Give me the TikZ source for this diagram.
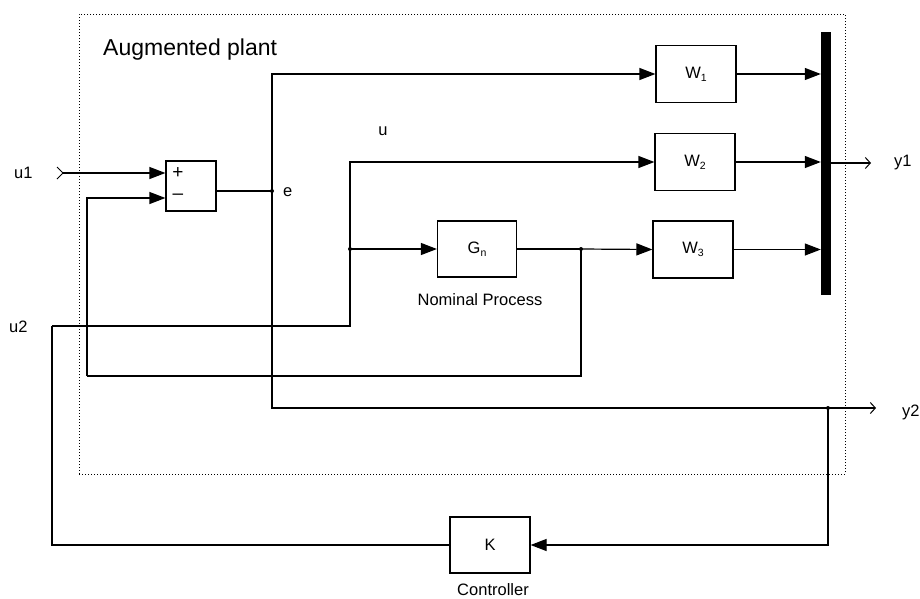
\documentclass[tikz,border=0pt]{standalone}
\usepackage{fontspec}
\setmainfont{Liberation Sans}
\usetikzlibrary{arrows.meta,calc}
\begin{document}
\begin{tikzpicture}[x=1pt,y=-1pt,
  blk/.style={draw,line width=1.2pt,minimum width=80pt,minimum height=57pt,inner sep=0pt,font=\fontsize{16.5}{19}\selectfont},
  wire/.style={line width=1.2pt},
  arr/.style={wire,-{Triangle[length=16pt,width=12pt]}},
  oarr/.style={wire,-{Straight Barb[length=5pt,width=11pt,line width=1pt]}},
  lbl/.style={font=\fontsize{16.5}{19}\selectfont,inner sep=0pt},
  jdot/.style={circle,fill,inner sep=0pt,minimum size=4pt}]
\newcommand{\sbs}[1]{\raisebox{-3pt}{\fontsize{10.5}{10.5}\selectfont #1}}
\useasboundingbox (0,0) rectangle (920,598);
\fill[white] (0,0) rectangle (920,598);

% augmented plant frame
\node[draw,dotted,line width=1pt,minimum width=766pt,minimum height=460pt,inner sep=0pt] (plant) at (462,244) {};
\node[anchor=base west,inner sep=0pt,font=\fontsize{23}{26}\selectfont] (plabel) at (103,55) {Augmented plant};

% blocks
\node[blk,minimum width=50pt,minimum height=50pt] (sum) at (191,186) {};
\node[lbl,font=\fontsize{19}{20}\selectfont] (plus) at (178,173) {+};
\node[lbl,font=\fontsize{19}{20}\selectfont] (minus) at (178,197) {\textendash};
\node[blk] (W1) at (696,74) {W\sbs{1}};
\node[blk] (W2) at (695,162) {W\sbs{2}};
\node[blk] (W3) at (693,249.5) {W\sbs{3}};
\node[blk,minimum width=79pt,minimum height=56pt] (Gn) at (477,249) {G\sbs{n}};
\node[blk,minimum height=56pt] (K) at (490,545) {K};
\node[fill,minimum width=10pt,minimum height=263pt,inner sep=0pt] (mux) at (826,163.5) {};

% labels
\node[lbl,anchor=west] (lu1) at (14,173) {u1};
\node[lbl,anchor=west] (lu2) at (9,327) {u2};
\node[lbl,anchor=west] (ly1) at (894,163) {y1};
\node[lbl,anchor=west] (ly2) at (902,412) {y2};
\node[lbl,anchor=west] (le) at (283,192) {e};
\node[lbl] (lu) at (383,131) {u};
\node[lbl] (lnp) at (480,300) {Nominal Process};
\node[lbl] (lk) at (493,590) {Controller};

% coordinates
\coordinate (u1in) at (63,173);
\coordinate (splus) at ($(sum.west)+(0,-13)$);
\coordinate (sminus) at ($(sum.west)+(0,12)$);
\coordinate (e) at (272,191);
\coordinate (yb) at (828,408);
\coordinate (y2end) at (876,408);
\coordinate (y1end) at (871,163);
\coordinate (u2c) at (52,326);
\coordinate (uj) at (350,249);
\coordinate (gj) at (581,249);
\coordinate (fb) at (87,376);

% input mark
\draw[line width=1pt] (u1in) ++(-6,-6) -- (u1in) -- ++(-6,6);

% connectors
\draw[arr] (u1in) -- (splus);
\draw[wire] (sum.east |- e) -- (e);
\draw[arr] (e) |- (W1.west);
\draw[wire] (e) |- (yb);
\draw[oarr] (yb) -- (y2end);
\draw[arr] (yb) |- (K.east);
\draw[wire] (K.west) -| (u2c);
\draw[wire] (u2c) -| (uj);
\draw[arr] (uj) |- (W2.west);
\draw[arr] (uj) -- (Gn.west);
\draw[wire] (Gn.east) -- (gj);
\draw[arr] (gj) -- (W3.west);
\draw[wire] (gj) |- (fb);
\draw[arr] (fb) |- (sminus);
\draw[arr] (W1.east) -- (W1.east -| mux.west);
\draw[arr] (W2.east) -- (W2.east -| mux.west);
\draw[arr] (W3.east) -- (W3.east -| mux.west);
\draw[oarr] (mux.east |- y1end) -- (y1end);

% junction dots
\node[jdot] (de) at (e) {};
\node[jdot] (duj) at (uj) {};
\node[jdot] (dgj) at (gj) {};
\node[jdot] (dyb) at (yb) {};
\end{tikzpicture}
\end{document}
